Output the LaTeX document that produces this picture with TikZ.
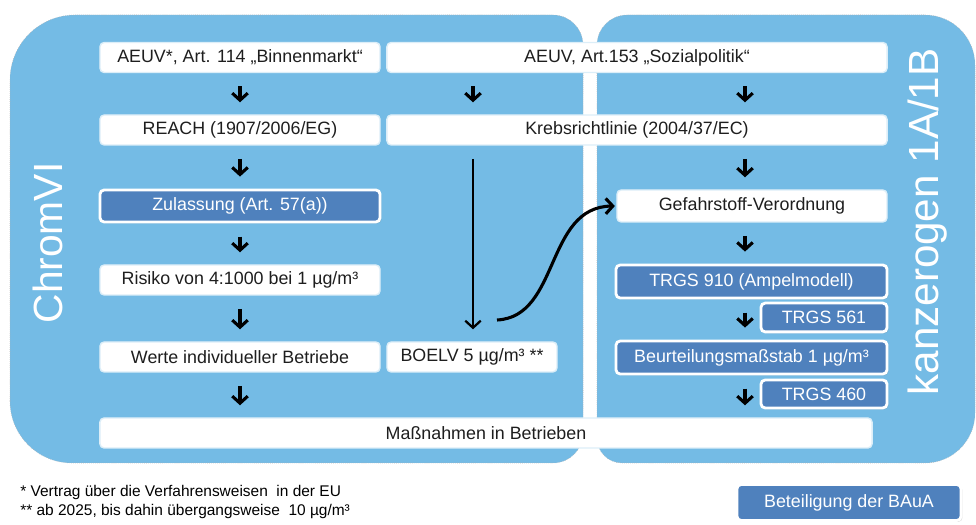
\documentclass[tikz,border=0pt]{standalone}
\usepackage{fontspec}
\setmainfont{Liberation Sans}
\usepackage{tikz}
\usetikzlibrary{arrows.meta,shadows}
\definecolor{panelblue}{RGB}{116,187,229}
\definecolor{boxblue}{RGB}{79,129,189}
\definecolor{txtgray}{RGB}{30,30,30}

\begin{document}
\begin{tikzpicture}[x=0.025cm,y=0.025cm,
  panel/.style={fill=panelblue,draw=gray!60,densely dotted,line width=0.4pt},
  wbox/.style={rectangle,rounded corners=3pt,fill=white,draw=white!75!panelblue,line width=1pt,
    text=txtgray,font=\fontsize{12.7}{14}\selectfont,minimum width=#1,minimum height=0.75cm,inner sep=1pt},
  wbox/.default=7cm,
  dbox/.style={rectangle,rounded corners=3pt,fill=boxblue,draw=white,line width=2pt,
    text=white,font=\fontsize{12.7}{14}\selectfont,minimum width=#1,minimum height=0.8cm,inner sep=1pt,
    drop shadow={shadow xshift=1pt,shadow yshift=-1pt,opacity=0.3}},
  dbox/.default=7cm,
  arr/.style={line width=2.2pt,-{Straight Barb[length=5pt,width=11pt]},shorten <=0.33cm,shorten >=0.3cm},
  vlabel/.style={rotate=90,text=white,font=\fontsize{30}{31}\selectfont},
  note/.style={anchor=west,inner sep=0pt,font=\fontsize{11}{12}\selectfont}
  ]
\useasboundingbox (0,0) rectangle (976,525);
% panels
\filldraw[panel] (10,124) -- (10,445) arc[start angle=180,end angle=90,radius=65]
  -- (553,510) arc[start angle=90,end angle=0,radius=30]
  -- (583,92) arc[start angle=0,end angle=-90,radius=30]
  -- (72,62) arc[start angle=270,end angle=180,radius=62] -- cycle;
\filldraw[panel] (597,87) -- (597,480) arc[start angle=180,end angle=90,radius=30]
  -- (925,510) arc[start angle=90,end angle=0,radius=50]
  -- (975,112) arc[start angle=0,end angle=-90,radius=50]
  -- (622,62) arc[start angle=270,end angle=180,radius=25] -- cycle;
\node[vlabel,font=\fontsize{29}{30}\selectfont] (chrom) at (48,282) {ChromVI};
\node[vlabel] (kanzero) at (928,303) {kanzerogen 1A/1B};
% left column
\node[wbox] (aeuvbm) at (240,467.5) {AEUV*, Art. 114 „Binnenmarkt“};
\node[wbox] (reach) at (240,395) {REACH (1907/2006/EG)};
\node[dbox] (zulassung) at (240,319) {Zulassung (Art. 57(a))};
\node[wbox] (risiko) at (240,245) {Risiko von 4:1000 bei 1 µg/m³};
\node[wbox] (werte) at (240,168) {Werte individueller Betriebe};
% middle and right
\node[wbox=12.5cm] (aeuvsp) at (637,467.5) {AEUV, Art.153 „Sozialpolitik“};
\node[wbox=12.5cm] (krebs) at (637,395) {Krebsrichtlinie (2004/37/EC)};
\node[wbox=4.25cm] (boelv) at (472,168) {BOELV 5 µg/m³ **};
\node[wbox=6.75cm,minimum height=0.8cm] (gefstoffv) at (752,319) {Gefahrstoff-Verordnung};
\node[dbox=6.775cm,minimum height=0.825cm] (trgs910) at (751.5,243.5) {TRGS 910 (Ampelmodell)};
\node[dbox=3.15cm,minimum height=0.72cm] (trgs561) at (824,207.5) {TRGS 561};
\node[dbox=6.775cm,minimum height=0.825cm] (beurteilung) at (751.5,167.5) {Beurteilungsmaßstab 1 µg/m³};
\node[dbox=3.15cm,minimum height=0.7cm] (trgs460) at (824,131) {TRGS 460};
\node[wbox=19.3cm] (massnahmen) at (486,92) {Maßnahmen in Betrieben};
% legend and notes
\node[dbox=5.6cm,minimum height=0.9cm] (baua) at (849,22.5) {Beteiligung der BAuA};
\node[note] (fnA) at (20,32) {* Vertrag über die Verfahrensweisen \ in der EU};
\node[note] (fnB) at (20,13) {** ab 2025, bis dahin übergangsweise \ 10 µg/m³};
% arrows
\coordinate (mcol) at (473,0);
\coordinate (rcol) at (745,0);
\coordinate (cstart) at (497,205);
\draw[arr] (aeuvbm) -- (reach);
\draw[arr] (reach) -- (zulassung);
\draw[arr] (zulassung) -- (risiko);
\draw[arr] (risiko) -- (werte);
\draw[arr] (werte.south) -- (werte.south |- massnahmen.north);
\draw[arr] (aeuvsp.south -| mcol) -- (krebs.north -| mcol);
\draw[arr,line width=1.6pt] (krebs.south -| mcol) -- (boelv.north -| mcol);
\draw[arr] (aeuvsp.south -| rcol) -- (krebs.north -| rcol);
\draw[arr] (krebs.south -| rcol) -- (gefstoffv.north -| rcol);
\draw[arr] (gefstoffv.south -| rcol) -- (trgs910.north -| rcol);
\draw[arr] (trgs910.south -| rcol) -- (beurteilung.north -| rcol);
\draw[arr] (beurteilung.south -| rcol) -- (massnahmen.north -| rcol);
\draw[arr,shorten <=0pt,shorten >=1pt] (cstart) .. controls (560,208) and (545,318) .. (gefstoffv.west);
\end{tikzpicture}
\end{document}
